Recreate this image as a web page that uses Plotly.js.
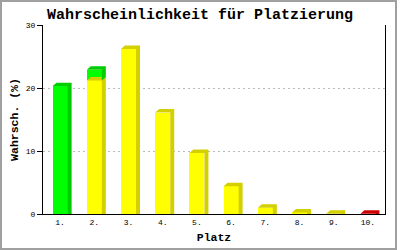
<!DOCTYPE html>
<html><head><meta charset="utf-8">
<script src="https://cdn.plot.ly/plotly-3.0.1.min.js"></script>
<style>
html,body{margin:0;padding:0;background:#fff;}
#wrap{position:relative;width:400px;height:250px;}
#chart{width:400px;height:250px;}
#frame{position:absolute;left:0;top:0;width:397px;height:250px;box-sizing:border-box;border:2px solid #a0a0a0;pointer-events:none;}
</style></head>
<body><div id="wrap"><div id="chart"></div><div id="frame"></div></div>
<script>
const categories = ['1.','2.','3.','4.','5.','6.','7.','8.','9.','10.'];
const yellowVals = [0, 21.2, 26.2, 16.1, 9.7, 4.4, 1.0, 0.25, 0.05, 0];
const greenVals  = [20.3, 1.7, 0, 0, 0, 0, 0, 0, 0, 0];
const redVals    = [0, 0, 0, 0, 0, 0, 0, 0, 0, 0.05];
const yTicks = [0, 10, 20, 30];

const series = [
  {vals: yellowVals, front: '#ffff00', side: '#d4d000'},
  {vals: greenVals,  front: '#00ff00', side: '#00cc00'},
  {vals: redVals,    front: '#ff0000', side: '#cc0000'}
];
const idx = categories.map((c,i)=>i);
const barW = 0.44, dx = 4/34.2, dy = 0.55;
const cum = categories.map(()=>0);
const sideTraces = [], frontTraces = [];
series.forEach(s=>{
  const base = cum.slice();
  const fy = [], fb = [], px = [], py = [];
  s.vals.forEach((v,i)=>{
    if (v > 0) {
      fy.push(v); fb.push(base[i]);
      const b = base[i], t = b + v;
      const xl = i - barW/2, xr = i + barW/2;
      const bb = b > 0 ? b + dy : 0;
      px.push(xl, xl+dx, xr+dx, xr+dx, xr, xr, xl, null);
      py.push(t, t+dy, t+dy, bb, b, t, t, null);
    } else { fy.push(null); fb.push(0); }
    cum[i] += v;
  });
  sideTraces.push({type:'scatter', mode:'lines', x: px, y: py, fill:'toself', fillcolor: s.side,
    line:{width:0, color: s.side}, hoverinfo:'skip', showlegend:false, connectgaps:false});
  frontTraces.push({type:'bar', x: idx, y: fy, base: fb, width: barW,
    marker:{color: s.front, line:{width:0}}, showlegend:false});
});

const mono = 'Liberation Mono, DejaVu Sans Mono, monospace';
const layout = {
  width: 400, height: 250,
  margin: {l: 43, r: 15, t: 25, b: 36},
  paper_bgcolor: '#fff', plot_bgcolor: '#fff',
  barmode: 'overlay',
  title: {text: 'Wahrscheinlichkeit für Platzierung', font: {family: mono, size: 15, color: '#000', weight: 'bold'},
    x: 0.5, xanchor: 'center', xref: 'container', y: 1 - 14/250, yanchor: 'middle', yref: 'container'},
  xaxis: {type: 'linear', range: [-0.5, 9.5], tickvals: idx, ticktext: categories, ticks: '', showgrid: false, zeroline: false,
    showline: true, linecolor: '#000', linewidth: 1, mirror: false,
    tickfont: {family: mono, size: 8, color: '#000'},
    title: {text: 'Platz', font: {family: mono, size: 11.5, color: '#000', weight: 'bold'}, standoff: 7}},
  yaxis: {range: [0, 30], tickvals: yTicks, ticks: 'outside', ticklen: 5, tickcolor: '#000', tickwidth: 1,
    showline: true, linecolor: '#000', linewidth: 1, mirror: true, zeroline: false,
    showgrid: true, gridcolor: '#bbbbbb', griddash: '2px,3px', gridwidth: 1,
    tickfont: {family: mono, size: 8, color: '#000'},
    title: {text: 'Wahrsch. (%)', font: {family: mono, size: 11.5, color: '#000', weight: 'bold'}, standoff: 4}},
  bargap: 0
};
Plotly.newPlot('chart', sideTraces.concat(frontTraces), layout, {displayModeBar: false, staticPlot: true});
</script></body></html>
